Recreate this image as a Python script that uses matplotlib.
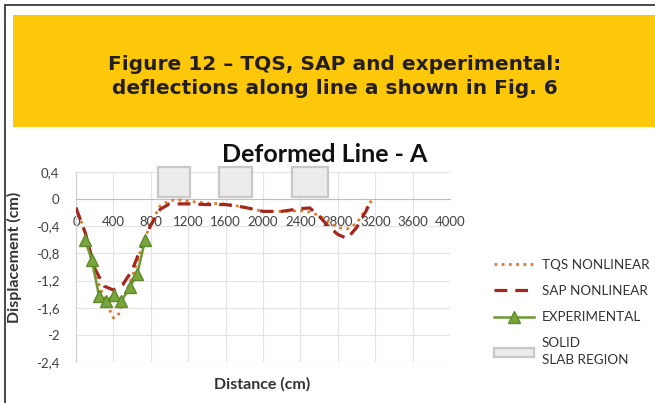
import numpy as np
import matplotlib.pyplot as plt
from matplotlib.patches import Rectangle
from matplotlib.lines import Line2D

# data
tqs_x = [0, 100, 200, 300, 400, 450, 500, 600, 700, 800, 900, 1000, 1100, 1200, 1400,
         1600, 1800, 2000, 2200, 2400, 2500, 2600, 2700, 2800, 2900, 3000, 3100, 3170]
tqs_y = [-0.12, -0.5, -1.1, -1.45, -1.75, -1.72, -1.5, -1.15, -0.72, -0.35, -0.1, -0.02, -0.01, -0.03, -0.06,
         -0.07, -0.12, -0.18, -0.18, -0.17, -0.19, -0.24, -0.33, -0.42, -0.44, -0.36, -0.15, 0.0]

sap_x = [0, 100, 200, 300, 400, 500, 600, 700, 800, 900, 1000, 1200, 1400, 1600, 1800,
         2000, 2200, 2400, 2500, 2600, 2700, 2800, 2900, 3000, 3100, 3150]
sap_y = [-0.13, -0.5, -1.02, -1.28, -1.34, -1.26, -1.05, -0.7, -0.38, -0.15, -0.07, -0.07, -0.08, -0.08, -0.12,
         -0.18, -0.18, -0.14, -0.13, -0.25, -0.4, -0.52, -0.58, -0.42, -0.18, -0.04]

exp_x = [95, 170, 245, 325, 410, 485, 575, 655, 740]
exp_y = [-0.6, -0.9, -1.42, -1.5, -1.41, -1.5, -1.3, -1.1, -0.6]

# solid slab regions (start, end) along distance
slab_regions = [(880, 1220), (1530, 1880), (2310, 2700)]
slab_bottom, slab_top = 0.03, 0.47

x_ticks = [0, 400, 800, 1200, 1600, 2000, 2400, 2800, 3200, 3600, 4000]
y_ticks = [0.4, 0, -0.4, -0.8, -1.2, -1.6, -2, -2.4]
y_labels = ["0,4", "0", "-0,4", "-0,8", "-1,2", "-1,6", "-2", "-2,4"]

plt.rcParams['font.family'] = ['Lato', 'DejaVu Sans']

W, H = 655, 403
fig = plt.figure(figsize=(W / 100, H / 100), dpi=100)

# outer frame and yellow caption box
fig.add_artist(Rectangle((4.5 / W, -0.1), 1.2, 1 - 5 / H + 0.1, transform=fig.transFigure,
                         fill=False, lw=1.3, ec='#3a3a3a'))
fig.add_artist(Rectangle((13 / W, 1 - 127 / H), 1, 112 / H, transform=fig.transFigure,
                         fc='#fec80a', ec='none'))
for txt, yy in [("Figure 12 – TQS, SAP and experimental:", 64),
                ("deflections along line a shown in Fig. 6", 89)]:
    fig.text(335 / W, 1 - yy / H, txt, ha='center', va='center', family='DejaVu Sans',
             fontsize=14.5, fontweight='bold', color='#231f20')

ax = fig.add_axes([76 / W, 1 - 362 / H, 374 / W, 190 / H])
ax.set_xlim(0, 4000)
ax.set_ylim(-2.4, 0.4)

for s in ['top', 'right']:
    ax.spines[s].set_visible(False)
ax.spines['bottom'].set_position(('data', 0))
ax.spines['bottom'].set_color('#bfbfbf')
ax.spines['left'].set_color('#d0d0d0')
ax.set_xticks(x_ticks)
ax.set_yticks(y_ticks)
ax.set_yticklabels(y_labels)
ax.tick_params(axis='x', length=0, pad=12, labelsize=9.5, labelcolor='#404040')
ax.tick_params(axis='y', length=0, pad=12, labelsize=9.5, labelcolor='#404040')
ax.grid(True, color='#e3e3e3', lw=0.8)
ax.set_axisbelow(True)

for x0, x1 in slab_regions:
    ax.add_patch(Rectangle((x0, slab_bottom), x1 - x0, slab_top - slab_bottom, fc='#ececec',
                           ec='#c8c8c8', lw=1.6, clip_on=False, zorder=1))

ax.plot(tqs_x, tqs_y, ls=(0, (1, 1.6)), color='#e07a2a', lw=2, zorder=3)
ax.plot(sap_x, sap_y, ls=(0, (4, 2.5)), color='#a3271e', lw=2.3, zorder=3)
ax.plot(exp_x, exp_y, color='#6b9a35', lw=1.8, marker='^', ms=8, mfc='#7aa53c', mec='#5e8a2b',
        zorder=4)

fig.text(325 / W, 1 - 155 / H, "Deformed Line - A", ha='center', va='center',
         fontsize=18, fontweight='bold', color='#111111')
ax.set_xlabel("Distance (cm)", fontsize=11.5, fontweight='bold', color='#333333')
ax.xaxis.set_label_coords((262 - 76) / 374, -(377 - 362) / 190)
ax.set_ylabel("Displacement (cm)", fontsize=11.5, fontweight='bold', color='#333333')
ax.yaxis.set_label_coords(-(76 - 22) / 374, (362 - 257) / 190)

handles = [
    Line2D([], [], ls=(0, (1, 1.6)), color='#e07a2a', lw=2),
    Line2D([], [], ls=(0, (4, 2.5)), color='#a3271e', lw=2.3),
    Line2D([], [], color='#6b9a35', lw=1.8, marker='^', ms=8, mfc='#7aa53c', mec='#5e8a2b'),
    Rectangle((0, 0), 1, 1, fc='#ececec', ec='#c8c8c8', lw=1.6),
]
labels = ["TQS NONLINEAR", "SAP NONLINEAR", "EXPERIMENTAL", "SOLID\nSLAB REGION"]
leg = fig.legend(handles, labels, loc='upper left', bbox_to_anchor=(494 / W, 1 - 259 / H),
                 frameon=False, fontsize=9.7, handlelength=3.0, handletextpad=0.55,
                 labelspacing=1.05, borderpad=0, borderaxespad=0, labelcolor='#333333')
leg.get_texts()[3].set_linespacing(1.5)

fig.savefig("out.png", dpi=100)
